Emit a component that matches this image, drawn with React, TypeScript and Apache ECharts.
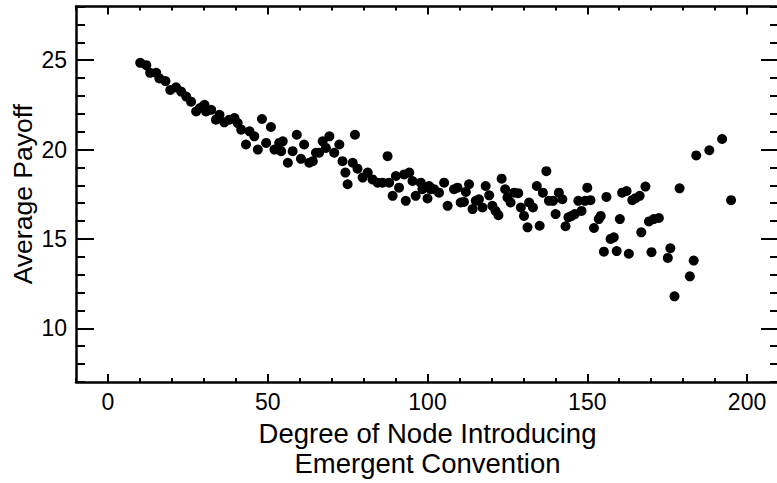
import React, { useEffect, useRef } from "react";
import * as echarts from "echarts";

const degrees = [
  10.1, 12.0, 13.2, 15.1, 16.1, 18.0, 19.5, 21.3, 22.9, 24.5, 26.0, 27.6, 28.8, 30.2, 30.7, 32.3,
  33.8, 34.9, 36.4, 38.0, 39.6, 40.6, 41.7, 43.2, 44.3, 45.8, 46.9, 48.2, 49.5, 51.0, 52.1, 53.6,
  54.2, 56.3, 54.7, 57.8, 59.1, 60.4, 61.4, 63.0, 64.1, 65.1, 66.1, 67.2, 68.2, 69.3, 70.8, 72.4,
  73.4, 74.3, 75.0, 76.6, 77.3, 78.1, 79.7, 81.3, 82.8, 84.4, 85.9, 87.5, 88.0, 89.1, 90.1, 91.1,
  92.7, 93.2, 94.3, 95.3, 96.3, 97.9, 98.4, 100.0, 100.5, 101.0, 102.1, 103.6, 105.2, 106.3, 108.3,
  109.4, 110.4, 111.4, 112.0, 113.0, 114.1, 115.1, 116.1, 117.2, 118.2, 119.3, 120.3, 121.3, 122.2,
  123.2, 124.3, 125.0, 126.0, 127.1, 128.4, 129.2, 130.2, 131.3, 131.8, 133.0, 134.2, 135.1, 136.1,
  137.2, 138.0, 139.3, 140.1, 141.1, 142.2, 143.2, 144.1, 145.1, 146.1, 147.2, 148.2, 149.3, 150.0,
  151.0, 152.1, 153.6, 154.2, 155.2, 156.0, 157.3, 158.3, 159.2, 160.2, 160.9, 162.3, 163.0, 164.1,
  165.1, 166.4, 166.9, 168.2, 169.3, 170.1, 170.8, 172.4, 175.2, 176.0, 177.3, 178.9, 182.1, 183.3,
  184.1, 188.2, 192.2, 195.0,
];

const payoffs = [
  24.85, 24.72, 24.29, 24.29, 23.98, 23.83, 23.33, 23.48, 23.24, 22.96, 22.68, 22.13, 22.32, 22.5,
  22.13, 22.22, 21.67, 21.94, 21.52, 21.67, 21.76, 21.48, 21.11, 20.28, 21.02, 20.74, 20.0, 21.71,
  20.37, 21.26, 20.0, 20.37, 19.91, 19.26, 20.46, 19.91, 20.83, 19.48, 20.28, 19.26, 19.35, 19.82,
  19.82, 20.46, 20.09, 20.74, 19.82, 20.28, 19.35, 18.71, 18.06, 19.26, 20.83, 18.93, 18.43, 18.71,
  18.33, 18.15, 18.15, 19.63, 18.15, 17.41, 18.52, 17.87, 18.61, 17.13, 18.71, 18.24, 17.41, 18.15,
  17.78, 17.26, 17.96, 17.78, 17.78, 17.59, 18.15, 16.85, 17.78, 17.87, 17.04, 17.07, 17.63, 18.06,
  16.67, 17.13, 17.22, 16.76, 17.96, 17.44, 16.85, 16.57, 16.33, 18.37, 17.78, 17.32, 17.04, 17.59,
  17.56, 16.76, 16.29, 15.65, 17.04, 16.76, 17.96, 15.74, 17.59, 18.79, 17.13, 17.13, 16.39, 17.59,
  17.22, 15.71, 16.21, 16.29, 16.39, 17.13, 16.57, 17.13, 17.87, 17.17, 15.61, 16.11, 16.29, 14.29,
  17.35, 15.0, 15.09, 14.32, 16.11, 17.59, 17.68, 14.17, 17.17, 17.28, 17.41, 15.37, 17.93, 15.98,
  14.26, 16.11, 16.17, 13.94, 14.48, 11.79, 17.83, 12.91, 13.79, 19.67, 19.96, 20.59, 17.17,
];

const xMajorTicks = [0, 50, 100, 150, 200];
const yMajorTicks = [10, 15, 20, 25];

const X_MIN = -10;
const X_MAX = 210;
const Y_MIN = 7;
const Y_MAX = 28;

export default function App() {
  const ref = useRef<HTMLDivElement>(null);

  useEffect(() => {
    if (!ref.current) return;
    const chart = echarts.init(ref.current, undefined, { renderer: "svg" });
    const font = "'Liberation Sans', Arial, sans-serif";
    const lineColor = "#000";

    const xBase = { type: "value", min: X_MIN, max: X_MAX, splitLine: { show: false } };
    const yBase = { type: "value", min: Y_MIN, max: Y_MAX, splitLine: { show: false } };

    const option = {
      animation: false,
      backgroundColor: "#fff",
      grid: {
        left: 76,
        right: -2,
        top: 6.5,
        bottom: 101,
        containLabel: false,
        outerBoundsMode: "none",
      },
      xAxis: [
        {
          ...xBase,
          position: "bottom",
          name: "Degree of Node Introducing\nEmergent Convention",
          nameLocation: "middle",
          nameGap: 36,
          nameMoveOverlap: false,
          nameTextStyle: { fontSize: 27.5, fontFamily: font, color: "#000", lineHeight: 30 },
          axisLine: { show: true, onZero: false, lineStyle: { color: lineColor, width: 2.5 } },
          axisTick: { show: true, inside: true, length: 8, customValues: xMajorTicks, lineStyle: { color: lineColor, width: 2 } },
          axisLabel: { show: true, customValues: xMajorTicks, margin: 8, fontSize: 23, fontFamily: font, color: "#000" },
        },
        {
          ...xBase,
          position: "bottom",
          interval: 10,
          axisLine: { show: false, onZero: false },
          axisTick: { show: true, inside: true, length: 4, lineStyle: { color: lineColor, width: 2 } },
          axisLabel: { show: false },
        },
        {
          ...xBase,
          position: "top",
          axisLine: { show: true, onZero: false, lineStyle: { color: lineColor, width: 2.5 } },
          axisTick: { show: true, inside: true, length: 8, customValues: xMajorTicks, lineStyle: { color: lineColor, width: 2 } },
          axisLabel: { show: false },
        },
        {
          ...xBase,
          position: "top",
          interval: 10,
          axisLine: { show: false, onZero: false },
          axisTick: { show: true, inside: true, length: 4, lineStyle: { color: lineColor, width: 2 } },
          axisLabel: { show: false },
        },
      ],
      yAxis: [
        {
          ...yBase,
          position: "left",
          name: "Average Payoff",
          nameLocation: "middle",
          nameGap: 40,
          nameMoveOverlap: false,
          nameTextStyle: { fontSize: 26.5, fontFamily: font, color: "#000" },
          axisLine: { show: true, onZero: false, lineStyle: { color: lineColor, width: 2.5 } },
          axisTick: { show: true, inside: true, length: 18, customValues: yMajorTicks, lineStyle: { color: lineColor, width: 2 } },
          axisLabel: { show: true, customValues: yMajorTicks, margin: 9, fontSize: 23, fontFamily: font, color: "#000" },
        },
        {
          ...yBase,
          position: "left",
          interval: 1,
          axisLine: { show: false, onZero: false },
          axisTick: { show: true, inside: true, length: 9, lineStyle: { color: lineColor, width: 2 } },
          axisLabel: { show: false },
        },
        {
          ...yBase,
          position: "right",
          axisLine: { show: true, onZero: false, lineStyle: { color: lineColor, width: 2.5 } },
          axisTick: { show: true, inside: true, length: 18, customValues: yMajorTicks, lineStyle: { color: lineColor, width: 2 } },
          axisLabel: { show: false },
        },
        {
          ...yBase,
          position: "right",
          interval: 1,
          axisLine: { show: false, onZero: false },
          axisTick: { show: true, inside: true, length: 9, lineStyle: { color: lineColor, width: 2 } },
          axisLabel: { show: false },
        },
      ],
      series: [
        {
          type: "scatter",
          xAxisIndex: 0,
          yAxisIndex: 0,
          symbol: "circle",
          symbolSize: 10,
          itemStyle: { color: "#000", opacity: 1 },
          data: degrees.map((d, i) => [d, payoffs[i]]),
        },
      ],
    };

    chart.setOption(option as any);
    return () => chart.dispose();
  }, []);

  return (
    <div
      ref={ref}
      style={{ position: "absolute", left: 0, top: 0, width: 777, height: 483, background: "#fff" }}
    />
  );
}
